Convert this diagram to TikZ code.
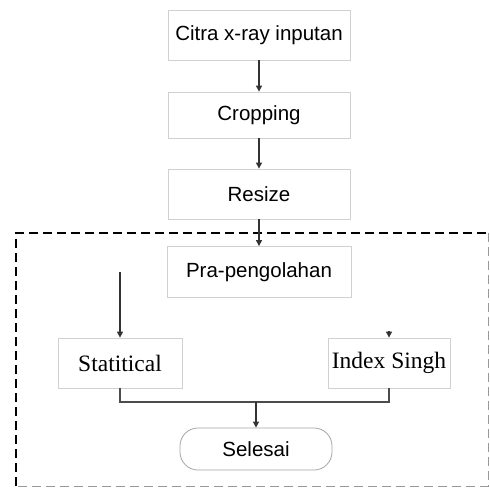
\documentclass[tikz,border=0pt]{standalone}
\usepackage{fontspec}
\setmainfont{Liberation Sans}
\newfontfamily\tnr{Liberation Serif}
\usetikzlibrary{arrows.meta}
\begin{document}
\begin{tikzpicture}[x=1pt,y=-1pt,
  procbox/.style={draw=black!18, line width=0.8pt, fill=white, inner sep=0pt, font=\fontsize{20.5}{22}\selectfont},
  methbox/.style={draw=black!18, line width=0.8pt, fill=white, inner sep=0pt, font=\tnr\fontsize{23.5}{25}\selectfont},
  termbox/.style={draw=black!35, line width=0.8pt, rounded corners=18pt, fill=white, inner sep=0pt, font=\fontsize{20.5}{22}\selectfont},
  flow/.style={draw=black!80, line width=1.1pt, -{Triangle[length=6pt,width=6pt]}},
  plainline/.style={draw=black!70, line width=1.3pt},
  groupline/.style={draw=black, line width=2.2pt, dash pattern=on 9pt off 5pt},
  groupline2/.style={draw=black!40, line width=0.9pt, dash pattern=on 9pt off 5pt}]
\useasboundingbox (0,0) rectangle (490,488);
\fill[white] (0,0) rectangle (490,488);
% dashed group frame
\draw[groupline] (16,486) -- (16,233) -- (489,233);
\draw[groupline2] (488,233) -- (488,486) -- (16,486);
% nodes
\node[procbox, minimum width=182pt, minimum height=50pt] (n1) at (259,35) {Citra x-ray inputan};
\node[procbox, minimum width=182pt, minimum height=46pt] (n2) at (259,115) {Cropping};
\node[procbox, minimum width=182pt, minimum height=50pt] (n3) at (259,194) {Resize};
\node[procbox, minimum width=184pt, minimum height=51pt] (n4) at (259,272) {Pra-pengolahan};
\node[methbox, minimum width=124pt, minimum height=50pt] (st) at (120,363) {Statitical};
\node[methbox, minimum width=122pt, minimum height=50pt] (ix) at (389,363) {Index Singh};
\node[termbox, minimum width=152pt, minimum height=42pt] (end) at (256,449) {Selesai};
% coordinates
\coordinate (sttop) at (120,272);
\coordinate (ixtop) at (389,331);
\coordinate (jl) at (120,402);
\coordinate (jm) at (256,402);
\coordinate (jr) at (389,402);
% connectors
\draw[flow] (n1) -- (n2);
\draw[flow] (n2) -- (n3);
\draw[flow] (n3) -- (n4);
\draw[flow] (sttop) -- (st);
\draw[flow] (ixtop) -- (ix);
\draw[plainline] (st.south) -- (jl) -- (jr) -- (ix.south);
\draw[flow] (jm) -- (end);
\end{tikzpicture}
\end{document}
